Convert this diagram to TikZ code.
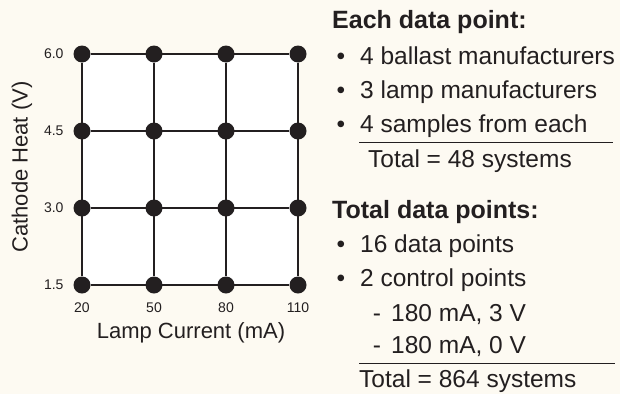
\documentclass[tikz,border=0pt]{standalone}
\usepackage{fontspec}
\setmainfont{Liberation Sans}
\usepackage{tikz}

\definecolor{paper}{RGB}{253,250,242}
\definecolor{ink}{RGB}{35,31,32}

\tikzset{
    dot/.style={shape=circle,fill=ink,inner sep=0pt,minimum size=17pt},
    tick/.style={text=ink,font=\fontsize{14}{16}\selectfont},
    axis/.style={text=ink,font=\fontsize{22}{26}\selectfont},
    head/.style={anchor=west,text=ink,inner sep=0pt,font=\fontsize{25}{28}\selectfont\bfseries},
    item/.style={anchor=west,text=ink,inner sep=0pt,text height=17pt,text depth=5pt,font=\fontsize{24.5}{28}\selectfont},
    bullet/.style={text=ink,inner sep=0pt,text height=17pt,text depth=5pt,font=\fontsize{24.5}{28}\selectfont},
}

\begin{document}
\begin{tikzpicture}[x=1pt,y=-1pt]
        \fill[paper] (0,0) rectangle (620,394);
        \useasboundingbox (0,0) rectangle (620,394);
        \fill[white] (82,54) rectangle (298,285);

        % grid points
        \foreach \c/\x in {1/82,2/154,3/226,4/298}
            \foreach \r/\y in {1/54,2/131,3/208,4/285}
                \node[dot] (p\c\r) at (\x,\y) {};

        \foreach \c in {1,2,3,4}
            \path [-,line width=1.2pt,draw=ink] (p\c1) edge (p\c4);
        \foreach \r in {1,2,3,4}
            \path [-,line width=1.2pt,draw=ink] (p1\r) edge (p4\r);

        % axis labels
        \node[tick,anchor=east] (y1) at (67,54) {6.0};
        \node[tick,anchor=east] (y2) at (67,131) {4.5};
        \node[tick,anchor=east] (y3) at (67,208) {3.0};
        \node[tick,anchor=east] (y4) at (67,285) {1.5};
        \node[tick] (x1) at (82,308) {20};
        \node[tick] (x2) at (154,308) {50};
        \node[tick] (x3) at (226,308) {80};
        \node[tick] (x4) at (298,308) {110};
        \node[axis] (xlab) at (191,333) {Lamp Current (mA)};
        \node[axis,rotate=90] (ylab) at (22,167) {Cathode Heat (V)};

        % each data point
        \node[head] (h1) at (332,22) {Each data point:};
        \foreach \n/\y/\txt in {a1/58/4 ballast manufacturers,a2/92/3 lamp manufacturers,a3/126/4 samples from each}
        {
            \node[bullet] (\n dot) at (341,\y) {•};
            \node[item] (\n) at (360,\y) {\txt};
        }
        \coordinate (r1a) at (359,142);
        \coordinate (r1b) at (613,142);
        \draw[ink,line width=1pt] (r1a) -- (r1b);
        \node[item] (t1) at (368,161) {Total = 48 systems};

        % total data points
        \node[head] (h2) at (332,212) {Total data points:};
        \foreach \n/\y/\txt in {b1/246/16 data points,b2/280/2 control points}
        {
            \node[bullet] (\n dot) at (341,\y) {•};
            \node[item] (\n) at (360,\y) {\txt};
        }
        \foreach \n/\y/\txt in {c1/315/{180 mA, 3 V},c2/347/{180 mA, 0 V}}
        {
            \node[bullet] (\n dash) at (377,\y) {-};
            \node[item] (\n) at (391,\y) {\txt};
        }
        \coordinate (r2a) at (359,363);
        \coordinate (r2b) at (615,363);
        \draw[ink,line width=1pt] (r2a) -- (r2b);
        \node[item] (t2) at (359,381) {Total = 864 systems};
    \end{tikzpicture}
\end{document}
